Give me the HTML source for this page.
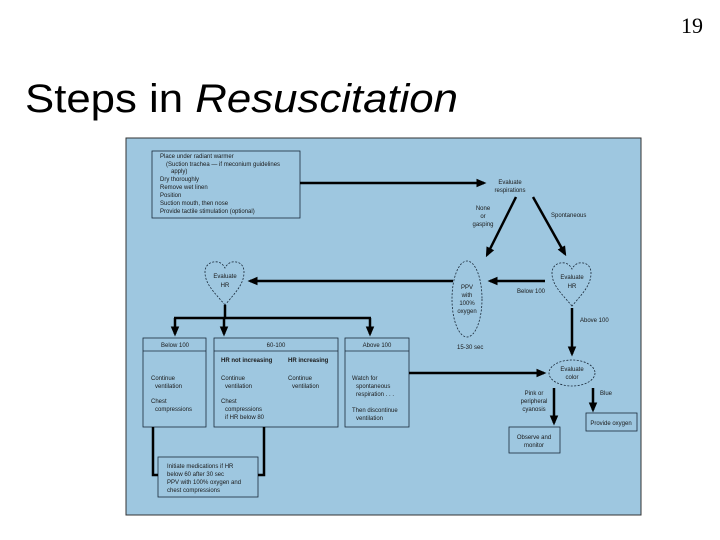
<!DOCTYPE html>
<html><head><meta charset="utf-8"><style>
html,body{margin:0;padding:0;background:#fff;width:720px;height:540px;overflow:hidden}
svg{display:block}
</style></head><body>
<svg width="720" height="540" viewBox="0 0 720 540" xmlns="http://www.w3.org/2000/svg" font-family="Liberation Sans, sans-serif">
<defs><marker id="a" markerWidth="4" markerHeight="4" refX="3" refY="2" orient="auto" markerUnits="strokeWidth"><path d="M0,0.3 L4,2 L0,3.7 z" fill="#000"/></marker></defs>
<text x="703" y="33" font-family="Liberation Serif, serif" font-size="22" text-anchor="end">19</text>
<text x="25" y="112" font-size="40" textLength="433" lengthAdjust="spacingAndGlyphs">Steps in <tspan font-style="italic">Resuscitation</tspan></text>
<rect x="126" y="138" width="515" height="377" fill="#9ec7e0" stroke="#333" stroke-width="1"/>
<g fill="none" stroke="#1a2a3a" stroke-width="0.8">
<rect x="152" y="151" width="148" height="67"/>
<rect x="143" y="338" width="63" height="89"/><line x1="143" y1="351" x2="206" y2="351"/>
<rect x="214" y="338" width="124" height="89"/><line x1="214" y1="351" x2="338" y2="351"/>
<rect x="345" y="338" width="64" height="89"/><line x1="345" y1="351" x2="409" y2="351"/>
<rect x="158" y="457" width="100" height="40"/>
<rect x="509" y="427" width="51" height="26"/>
<rect x="586" y="413" width="51" height="18"/>
</g>
<g fill="none" stroke="#1a2a3a" stroke-width="0.8" stroke-dasharray="2,1.5">
<ellipse cx="467" cy="299" rx="15" ry="38"/>
<ellipse cx="572" cy="373" rx="23" ry="13"/>
<path d="M225,305 C214,292 205,284 205,272 C205,264 212,261 218,262 C222,263 224,266 225,268 C226,266 228,263 232,262 C238,261 244,264 244,272 C244,284 236,292 225,305 z"/>
<path d="M572,306 C561,293 552,285 552,273 C552,265 559,262 565,263 C569,264 571,267 572,269 C573,267 575,264 579,263 C585,262 591,265 591,273 C591,285 583,293 572,306 z"/>
</g>
<g stroke="#000" stroke-width="2.5" fill="none" marker-end="url(#a)">
<line x1="300" y1="183" x2="484" y2="183"/>
<line x1="516" y1="197" x2="487" y2="255"/>
<line x1="533" y1="197" x2="565" y2="254"/>
<line x1="545" y1="281" x2="490" y2="281"/>
<line x1="453" y1="281" x2="250" y2="281"/>
<line x1="175" y1="318" x2="175" y2="334"/>
<line x1="224" y1="318" x2="224" y2="334"/>
<line x1="370" y1="318" x2="370" y2="334"/>
<line x1="572" y1="308" x2="572" y2="354"/>
<line x1="409" y1="373" x2="544" y2="373"/>
<line x1="554" y1="388" x2="554" y2="423"/>
<line x1="593" y1="388" x2="593" y2="410"/>
</g>
<g stroke="#000" stroke-width="2.5" fill="none">
<line x1="225" y1="305" x2="225" y2="318"/>
<line x1="174" y1="318" x2="371" y2="318"/>
<polyline points="153,427 153,475 158,475"/>
<polyline points="264,427 264,475 258,475"/>
</g>
<g font-size="6" fill="#1a1a1a">
<text x="160" y="158">Place under radiant warmer</text>
<text x="166" y="166">(Suction trachea — if meconium guidelines</text>
<text x="171" y="173">apply)</text>
<text x="160" y="181">Dry thoroughly</text>
<text x="160" y="189">Remove wet linen</text>
<text x="160" y="197">Position</text>
<text x="160" y="205">Suction mouth, then nose</text>
<text x="160" y="213">Provide tactile stimulation (optional)</text>
<text x="510" y="184" text-anchor="middle">Evaluate</text>
<text x="510" y="192" text-anchor="middle">respirations</text>
<text x="483" y="210" text-anchor="middle">None</text>
<text x="483" y="218" text-anchor="middle">or</text>
<text x="483" y="226" text-anchor="middle">gasping</text>
<text x="551" y="217">Spontaneous</text>
<text x="225" y="278" text-anchor="middle">Evaluate</text>
<text x="225" y="287" text-anchor="middle">HR</text>
<text x="572" y="279" text-anchor="middle">Evaluate</text>
<text x="572" y="288" text-anchor="middle">HR</text>
<text x="467" y="289" text-anchor="middle">PPV</text>
<text x="467" y="297" text-anchor="middle">with</text>
<text x="467" y="305" text-anchor="middle">100%</text>
<text x="467" y="313" text-anchor="middle">oxygen</text>
<text x="517" y="293">Below 100</text>
<text x="580" y="322">Above 100</text>
<text x="457" y="349">15-30 sec</text>
<text x="175" y="347" text-anchor="middle">Below 100</text>
<text x="276" y="347" text-anchor="middle">60-100</text>
<text x="377" y="347" text-anchor="middle">Above 100</text>
<text x="221" y="362" font-weight="bold">HR not increasing</text>
<text x="288" y="362" font-weight="bold">HR increasing</text>
<text x="151" y="380">Continue</text><text x="155" y="388">ventilation</text>
<text x="151" y="403">Chest</text><text x="155" y="411">compressions</text>
<text x="221" y="380">Continue</text><text x="225" y="388">ventilation</text>
<text x="221" y="403">Chest</text><text x="225" y="411">compressions</text><text x="225" y="419">if HR below 80</text>
<text x="288" y="380">Continue</text><text x="292" y="388">ventilation</text>
<text x="352" y="380">Watch for</text><text x="356" y="388">spontaneous</text><text x="356" y="396">respiration . . .</text>
<text x="352" y="412">Then discontinue</text><text x="356" y="420">ventilation</text>
<text x="572" y="371" text-anchor="middle">Evaluate</text>
<text x="572" y="379" text-anchor="middle">color</text>
<text x="534" y="395" text-anchor="middle">Pink or</text>
<text x="534" y="403" text-anchor="middle">peripheral</text>
<text x="534" y="411" text-anchor="middle">cyanosis</text>
<text x="600" y="395">Blue</text>
<text x="611" y="425" text-anchor="middle">Provide oxygen</text>
<text x="534" y="439" text-anchor="middle">Observe and</text>
<text x="534" y="447" text-anchor="middle">monitor</text>
<text x="167" y="468">Initiate medications if HR</text>
<text x="167" y="476">below 60 after 30 sec</text>
<text x="167" y="484">PPV with 100% oxygen and</text>
<text x="167" y="492">chest compressions</text>
</g>
</svg>
</body></html>
